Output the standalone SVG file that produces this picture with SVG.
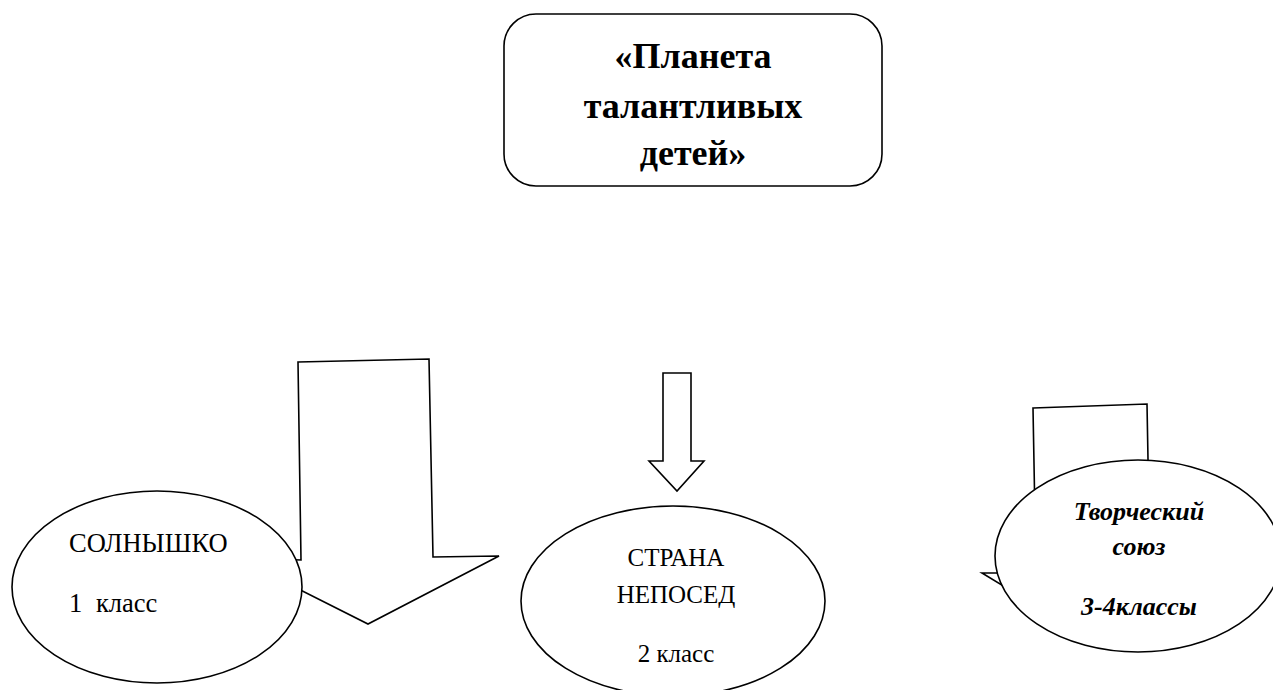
<svg xmlns="http://www.w3.org/2000/svg" width="1273" height="690" viewBox="0 0 1273 690">
<style>
.sh{fill:#fff;stroke:#000;stroke-width:1.6;stroke-linejoin:miter}
.t{font-family:"Liberation Serif","Times New Roman",serif;fill:#000}
</style>
<rect width="1273" height="690" fill="#fff"/>
<g id="connectors">
<polygon id="arrow-left" class="sh" points="298,362 429,359 433,557 499,556 368,624 237,558 301,560"/>
<polygon id="arrow-center" class="sh" points="663,373 691,373 691,461 704,461 677,491 649,461 663,461"/>
<polygon id="arrow-right" class="sh" points="1033,408 1147,404 1150,570 1205,572 1092,640 982,573 1036,573"/>
</g>
<g id="title">
<rect x="504" y="14" width="378" height="172" rx="32" ry="32" class="sh"/>
<text class="t" font-size="36" font-weight="bold" text-anchor="middle"><tspan x="693" y="68">«Планета</tspan><tspan x="693" y="118">талантливых</tspan><tspan x="693" y="165">детей»</tspan></text>
</g>
<g id="node-1">
<ellipse cx="157" cy="587" rx="145" ry="96" class="sh"/>
<text class="t" font-size="26.5"><tspan x="69" y="552">СОЛНЫШКО</tspan><tspan x="69" y="612">1</tspan><tspan x="96" y="612">класс</tspan></text>
</g>
<g id="node-2">
<ellipse cx="673" cy="601" rx="152" ry="95" class="sh"/>
<text class="t" font-size="25" text-anchor="middle"><tspan x="676" y="566">СТРАНА</tspan><tspan x="676" y="603">НЕПОСЕД</tspan><tspan x="676" y="662">2 класс</tspan></text>
</g>
<g id="node-3">
<ellipse cx="1138" cy="556" rx="143" ry="96" class="sh"/>
<text class="t" font-size="26" font-weight="bold" font-style="italic" text-anchor="middle"><tspan x="1139" y="520">Творческий</tspan><tspan x="1139" y="555">союз</tspan><tspan x="1139" y="615">3-4классы</tspan></text>
</g>
</svg>
